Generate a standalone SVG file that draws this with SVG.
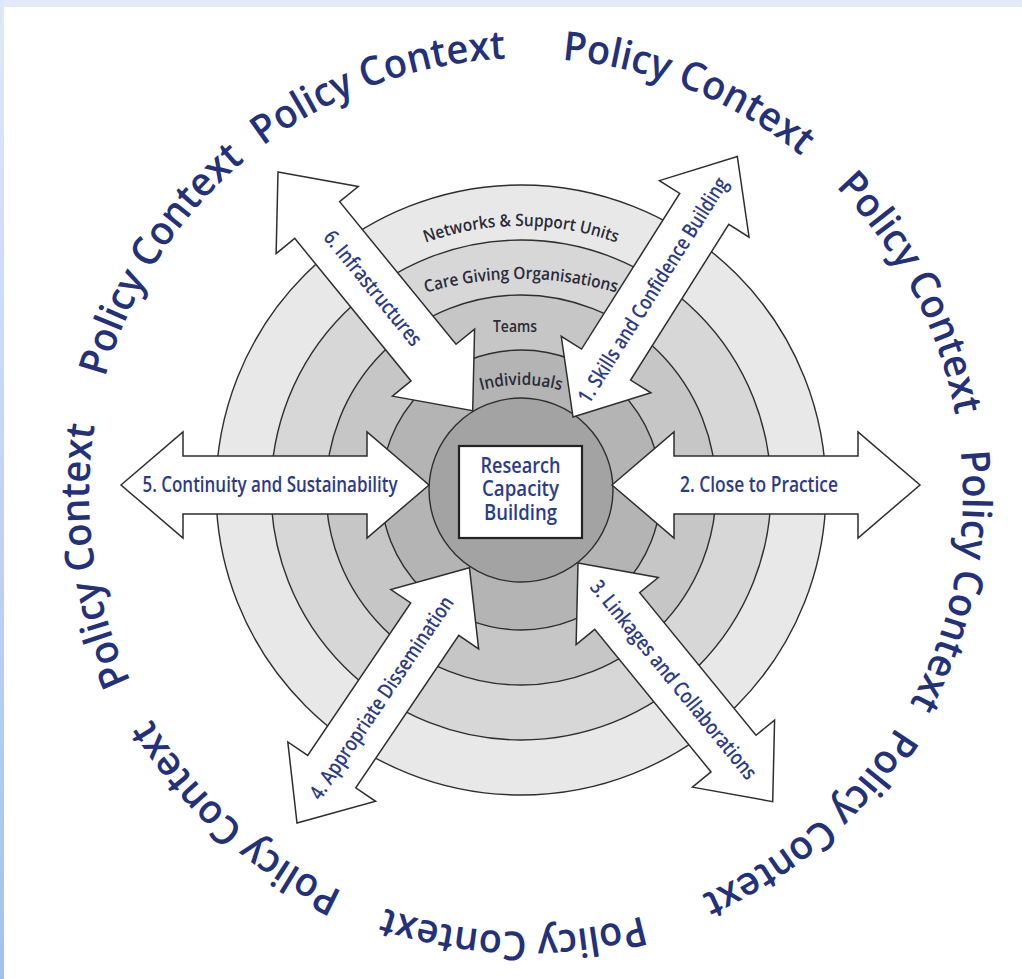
<svg xmlns="http://www.w3.org/2000/svg" xmlns:xlink="http://www.w3.org/1999/xlink" width="1022" height="979" viewBox="0 0 1022 979">
<style>
.ring{stroke:#2e2e2e;stroke-width:1.4}
.arrow{fill:#ffffff;stroke:#2e2e2e;stroke-width:1.5;stroke-linejoin:miter}
.pc{font-family:"Open Sans","Noto Sans",sans-serif;font-size:40px;font-weight:600;fill:#22317a}
.al{font-family:"Open Sans","Noto Sans",sans-serif;font-size:21px;font-weight:600;fill:#2c3a8a;text-anchor:middle}
.rl{font-family:"Open Sans","Noto Sans",sans-serif;font-size:17px;font-weight:600;fill:#2a2a38;text-anchor:middle}
.cl{font-family:"Open Sans","Noto Sans",sans-serif;font-size:21px;font-weight:600;fill:#2a3c8c;text-anchor:middle}
</style>
<defs>
<linearGradient id="edge" x1="0" y1="0" x2="0" y2="1">
<stop offset="0" stop-color="#dfe8f8"/>
<stop offset="1" stop-color="#a6c0ee"/>
</linearGradient>
<polygon id="dbl" class="arrow" points="0,0 62,-53 62,-29 246,-29 246,-53 308,0 246,53 246,29 62,29 62,53"/>
<path id="pcircle" d="M 263 146 A 437 437 0 0 1 789 844 A 437 437 0 0 1 263 146"/>
<path id="arcNet" d="M 381 263.5 A 280 280 0 0 1 661 263.5"/>
<path id="arcCare" d="M 377.3 310.9 A 340 340 0 0 1 664.7 310.9"/>
<path id="arcInd" d="M 446 405 A 150 150 0 0 1 596 405"/>
</defs>
<rect x="0" y="0" width="1022" height="979" fill="#ffffff"/>
<rect x="0" y="0" width="1022" height="7" fill="#e2eaf8"/>
<rect x="0" y="0" width="4" height="979" fill="url(#edge)"/>

<g id="policy-context">
<text class="pc"><textPath href="#pcircle" startOffset="0" textLength="262" lengthAdjust="spacingAndGlyphs">Policy Context</textPath></text>
<text class="pc"><textPath href="#pcircle" startOffset="318" textLength="262" lengthAdjust="spacingAndGlyphs">Policy Context</textPath></text>
<text class="pc"><textPath href="#pcircle" startOffset="626" textLength="262" lengthAdjust="spacingAndGlyphs">Policy Context</textPath></text>
<text class="pc"><textPath href="#pcircle" startOffset="924" textLength="262" lengthAdjust="spacingAndGlyphs">Policy Context</textPath></text>
<text class="pc"><textPath href="#pcircle" startOffset="1212" textLength="262" lengthAdjust="spacingAndGlyphs">Policy Context</textPath></text>
<text class="pc"><textPath href="#pcircle" startOffset="1536" textLength="262" lengthAdjust="spacingAndGlyphs">Policy Context</textPath></text>
<text class="pc"><textPath href="#pcircle" startOffset="1843" textLength="262" lengthAdjust="spacingAndGlyphs">Policy Context</textPath></text>
<text class="pc"><textPath href="#pcircle" startOffset="2148" textLength="262" lengthAdjust="spacingAndGlyphs">Policy Context</textPath></text>
<text class="pc"><textPath href="#pcircle" startOffset="2459" textLength="262" lengthAdjust="spacingAndGlyphs">Policy Context</textPath></text>
</g>

<g id="rings">
<circle id="ring-networks" class="ring" cx="521" cy="490" r="305" fill="#e8e8e8"/>
<circle id="ring-care" class="ring" cx="521" cy="490" r="250" fill="#d7d7d7"/>
<circle id="ring-teams" class="ring" cx="521" cy="490" r="195" fill="#c6c6c6"/>
<circle id="ring-individuals" class="ring" cx="521" cy="490" r="140" fill="#b4b4b4"/>
<circle id="ring-core" class="ring" cx="521" cy="490" r="92" fill="#a3a3a3"/>
</g>

<g id="connectors">
<g id="arrow5" transform="translate(121,485)"><use href="#dbl"/><text class="al" x="149" y="7" textLength="255" lengthAdjust="spacingAndGlyphs">5. Continuity and Sustainability</text></g>
<g id="arrow2" transform="translate(612,485)"><use href="#dbl"/><text class="al" x="147" y="7" textLength="158" lengthAdjust="spacingAndGlyphs">2. Close to Practice</text></g>
<g id="arrow6" transform="translate(278,172) rotate(50.79)"><use href="#dbl"/><text class="al" x="150" y="7" textLength="142" lengthAdjust="spacingAndGlyphs">6. Infrastructures</text></g>
<g id="arrow1" transform="translate(573,417) rotate(-57.76)"><use href="#dbl"/><text class="al" x="150" y="7" textLength="262" lengthAdjust="spacingAndGlyphs">1. Skills and Confidence Building</text></g>
<g id="arrow3" transform="translate(578,563) rotate(50.79)"><use href="#dbl"/><text class="al" x="151" y="7" textLength="250" lengthAdjust="spacingAndGlyphs">3. Linkages and Collaborations</text></g>
<g id="arrow4" transform="translate(297,823) rotate(-55.95)"><use href="#dbl"/><text class="al" x="151" y="7" textLength="240" lengthAdjust="spacingAndGlyphs">4. Appropriate Dissemination</text></g>
</g>

<g id="ring-labels">
<text class="rl"><textPath href="#arcNet" startOffset="50%" textLength="195" lengthAdjust="spacingAndGlyphs">Networks &amp; Support Units</textPath></text>
<text class="rl"><textPath href="#arcCare" startOffset="50%" textLength="193" lengthAdjust="spacingAndGlyphs">Care Giving Organisations</textPath></text>
<text class="rl" x="515" y="332" textLength="44" lengthAdjust="spacingAndGlyphs">Teams</text>
<text class="rl"><textPath href="#arcInd" startOffset="50%" textLength="81" lengthAdjust="spacingAndGlyphs">Individuals</textPath></text>
</g>

<g id="center-node">
<rect x="459" y="446" width="123" height="92" fill="#ffffff" stroke="#222222" stroke-width="2.2"/>
<text class="cl" x="520.5" y="472.5" textLength="80" lengthAdjust="spacingAndGlyphs">Research</text>
<text class="cl" x="520.5" y="496" textLength="77" lengthAdjust="spacingAndGlyphs">Capacity</text>
<text class="cl" x="520.5" y="520" textLength="73" lengthAdjust="spacingAndGlyphs">Building</text>
</g>
</svg>
